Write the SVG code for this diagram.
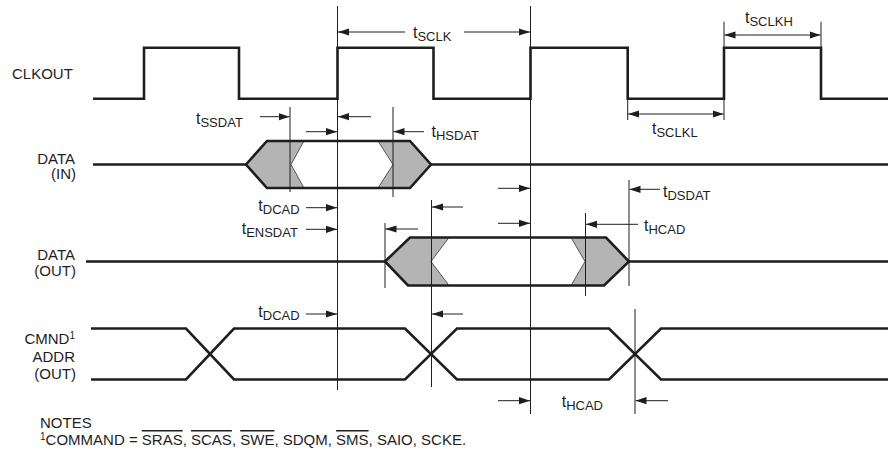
<svg xmlns="http://www.w3.org/2000/svg" width="888" height="453" viewBox="0 0 888 453">
<style>
text{font-family:"Liberation Sans",Arial,Helvetica,sans-serif;fill:#1e1e1e}
.lbl{font-size:15px}
.t{font-size:16px}
.sub{font-size:13px}
.sup{font-size:10px}
.wave{fill:none;stroke:#1e1e1e;stroke-width:2.6;stroke-linejoin:miter}
.hex{fill:#fff;stroke:none}
.gray{fill:#b4b4b4;stroke:#1e1e1e;stroke-width:0.7}
.thin{fill:none;stroke:#1e1e1e;stroke-width:1}
.arr{fill:none;stroke:#1e1e1e;stroke-width:1;marker-end:url(#ah)}
.arr2{fill:none;stroke:#1e1e1e;stroke-width:1;marker-start:url(#ah);marker-end:url(#ah)}
</style>
<defs>
<marker id="ah" markerUnits="userSpaceOnUse" markerWidth="11" markerHeight="8" refX="11" refY="4" orient="auto-start-reverse">
<path d="M0,0.4 L11,4 L0,7.6 z" fill="#1e1e1e"/>
</marker>
</defs>
<rect width="888" height="453" fill="#fff"/>

<g id="clkout">
<text class="lbl" x="12" y="79">CLKOUT</text>
<path class="wave" d="M93,98.7 H144 V47.7 H239 V98.7 H337.5 V47.7 H433.5 V98.7 H530.5 V47.7 H627.7 V98.7 H724 V47.7 H821 V98.7 H888"/>
</g>

<g id="data-in">
<text class="lbl" text-anchor="end"><tspan x="75" y="163.5">DATA</tspan><tspan x="76" y="179">(IN)</tspan></text>
<path class="wave" d="M93,164.5 H246 M431,164.5 H888"/>
<polygon class="hex" points="246,164.5 267,141 410,141 431,164.5 410,188 267,188"/>
<polygon class="gray" points="246,164.5 267,141 304,141 291,164.5 304,188 267,188"/>
<polygon class="gray" points="378,141 410,141 431,164.5 410,188 378,188 393,164.5"/>
<polygon class="wave" points="246,164.5 267,141 410,141 431,164.5 410,188 267,188"/>
</g>

<g id="data-out">
<text class="lbl" text-anchor="end"><tspan x="75" y="260">DATA</tspan><tspan x="76" y="275.5">(OUT)</tspan></text>
<path class="wave" d="M86,261.5 H385 M629,261.5 H888"/>
<polygon class="hex" points="385,261.5 410,237.5 606,237.5 629,261.5 604,285.5 408,285.5"/>
<polygon class="gray" points="385,261.5 410,237.5 449,237.5 431,261.5 449,285.5 408,285.5"/>
<polygon class="gray" points="571,237.5 606,237.5 629,261.5 604,285.5 571,285.5 585,261.5"/>
<polygon class="wave" points="385,261.5 410,237.5 606,237.5 629,261.5 604,285.5 408,285.5"/>
</g>

<g id="cmnd-addr">
<text class="lbl" text-anchor="end"><tspan x="75" y="344">CMND<tspan class="sup" dy="-5">1</tspan></tspan><tspan x="75" y="362">ADDR</tspan><tspan x="76" y="379">(OUT)</tspan></text>
<path class="wave" d="M91,328.5 H186 L234,379.5 H405 L457,328.5 H609 L661,379.5 H888"/>
<path class="wave" d="M91,379.5 H186 L234,328.5 H405 L457,379.5 H609 L661,328.5 H888"/>
</g>

<g id="connectors">
<path class="thin" d="M337.5,6 V390 M530.5,6 V414 M290,107 V192 M393,107 V197 M385,223 V288 M431.5,200 V387 M585.5,213 V296 M629,180 V286 M635,309 V414 M627.7,98 V120 M724,21.7 V120 M821,21.7 V48"/>
<path class="arr" d="M405,32 H338"/>
<path class="arr" d="M464,32 H530"/>
<path class="arr2" d="M724.5,35 H820.5"/>
<path class="arr2" d="M628.2,114 H723.5"/>
<path class="arr" d="M260,116.7 H289.5"/>
<path class="arr" d="M371,116.7 H338"/>
<path class="arr" d="M306,131.7 H337"/>
<path class="arr" d="M424,131.7 H393.5"/>
<path class="arr" d="M306,207.7 H337"/>
<path class="arr" d="M463,207 H432"/>
<path class="arr" d="M306,229.3 H337"/>
<path class="arr" d="M418,229 H385.5"/>
<path class="arr" d="M498,188.3 H530"/>
<path class="arr" d="M660,189.3 H629.5"/>
<path class="arr" d="M498,223.3 H530"/>
<path class="arr" d="M638,224.3 H586"/>
<path class="arr" d="M306,314 H337"/>
<path class="arr" d="M463,314 H432"/>
<path class="arr" d="M498,400.7 H530"/>
<path class="arr" d="M668,400.7 H635.5"/>
</g>

<g id="timing-labels">
<text class="t" x="413" y="38">t<tspan class="sub" dy="3">SCLK</tspan></text>
<text class="t" x="745" y="23.3">t<tspan class="sub" dy="3">SCLKH</tspan></text>
<text class="t" x="652" y="134">t<tspan class="sub" dy="3">SCLKL</tspan></text>
<text class="t" x="196" y="124">t<tspan class="sub" dy="3">SSDAT</tspan></text>
<text class="t" x="431.5" y="137.3">t<tspan class="sub" dy="3">HSDAT</tspan></text>
<text class="t" x="258.3" y="211">t<tspan class="sub" dy="3">DCAD</tspan></text>
<text class="t" x="241.7" y="234">t<tspan class="sub" dy="3">ENSDAT</tspan></text>
<text class="t" x="663" y="196.5">t<tspan class="sub" dy="3.5">DSDAT</tspan></text>
<text class="t" x="644" y="230.5">t<tspan class="sub" dy="3.5">HCAD</tspan></text>
<text class="t" x="258.3" y="317">t<tspan class="sub" dy="3">DCAD</tspan></text>
<text class="t" x="561.7" y="407">t<tspan class="sub" dy="3">HCAD</tspan></text>
</g>

<g id="notes">
<text class="lbl" x="40" y="428">NOTES</text>
<text class="lbl" x="40" y="445"><tspan class="sup" dy="-5">1</tspan><tspan dy="5">COMMAND = </tspan><tspan text-decoration="overline">SRAS</tspan>, <tspan text-decoration="overline">SCAS</tspan>, <tspan text-decoration="overline">SWE</tspan>, SDQM, <tspan text-decoration="overline">SMS</tspan>, SAIO, SCKE.</text>
</g>
</svg>
